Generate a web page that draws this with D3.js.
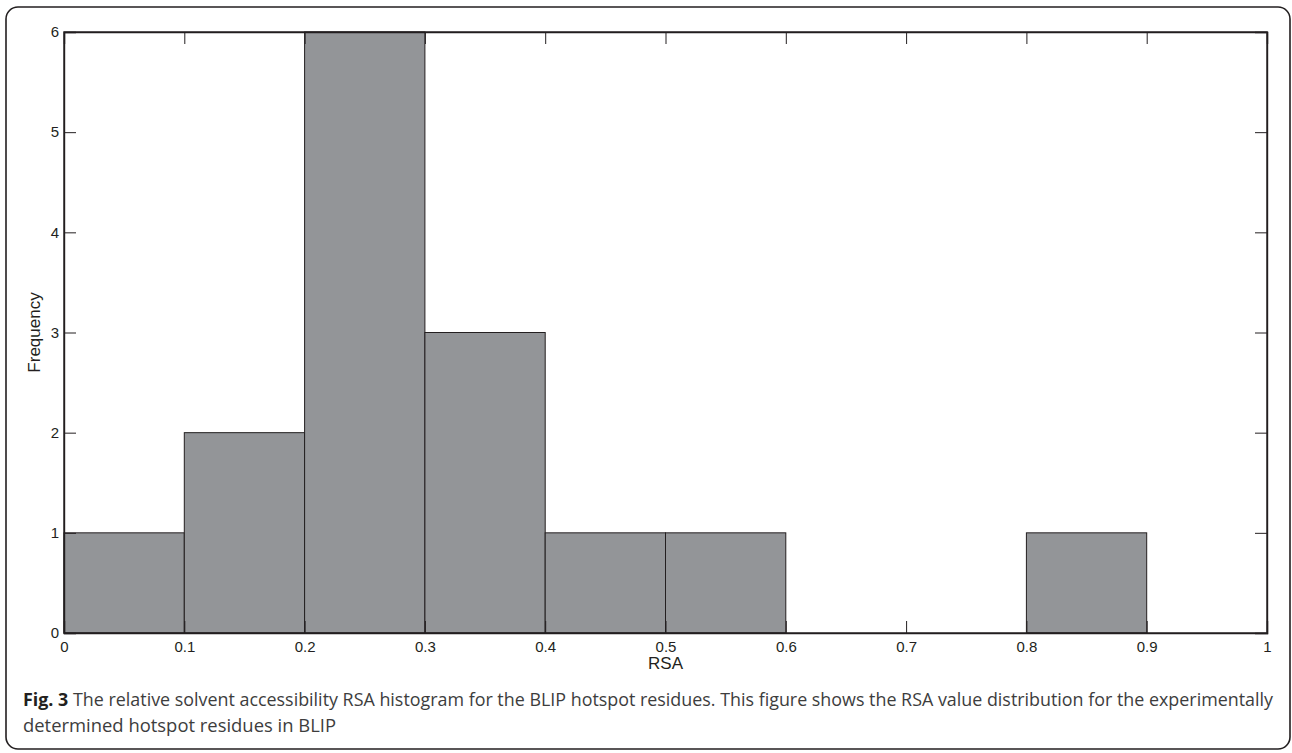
<!DOCTYPE html>
<html>
<head>
<meta charset="utf-8">
<script src="https://cdn.jsdelivr.net/npm/d3@7"></script>
<style>
  body { margin: 0; background: #fff; }
  svg { display: block; }
</style>
</head>
<body>
<div id="svgDiv"></div>
<script>
// histogram bins (RSA) and counts
var binEdges = [0, 0.1, 0.2, 0.3, 0.4, 0.5, 0.6, 0.7, 0.8, 0.9, 1.0];
var counts = [1, 2, 6, 3, 1, 1, 0, 0, 1, 0];
var xTicks = [0, 0.1, 0.2, 0.3, 0.4, 0.5, 0.6, 0.7, 0.8, 0.9, 1];
var yTicks = [0, 1, 2, 3, 4, 5, 6];
var xLabel = "RSA";
var yLabel = "Frequency";
var captionBold = "Fig. 3";
var captionLine1 = " The relative solvent accessibility RSA histogram for the BLIP hotspot residues. This figure shows the RSA value distribution for the experimentally";
var captionLine2 = "determined hotspot residues in BLIP";

var svgWidth = 1292, svgHeight = 753;
var plot = {left: 64, right: 1267, top: 32, bottom: 633};

var svg = d3.select("#svgDiv").append("svg")
    .attr("width", svgWidth)
    .attr("height", svgHeight);

// outer frame
svg.append("rect")
    .attr("x", 6).attr("y", 7)
    .attr("width", 1284).attr("height", 742)
    .attr("rx", 12).attr("ry", 12)
    .attr("fill", "none")
    .attr("stroke", "#231f20")
    .attr("stroke-width", 1.6);

var x = d3.scaleLinear().domain([0, 1]).range([plot.left, plot.right]);
var y = d3.scaleLinear().domain([0, 6]).range([plot.bottom, plot.top]);

var bins = counts.map(function(c, i) {
    return {x0: binEdges[i], x1: binEdges[i + 1], n: c};
});

// bars
svg.append("g").selectAll("rect")
    .data(bins)
    .enter().append("rect")
    .attr("x", function(d) { return x(d.x0); })
    .attr("y", function(d) { return y(d.n); })
    .attr("width", function(d) { return x(d.x1) - x(d.x0); })
    .attr("height", function(d) { return y(0) - y(d.n); })
    .attr("fill", "#939598")
    .attr("stroke", "#231f20")
    .attr("stroke-width", 1);

var tickFont = "'Liberation Sans', Arial, sans-serif";
var axisColor = "#231f20";

// bottom axis - ticks inward
var xAxis = d3.axisBottom(x).tickValues(xTicks).tickSize(-12).tickPadding(8)
    .tickFormat(function(d) { return d === 0 ? "0" : d === 1 ? "1" : d3.format(".1f")(d); });
var gx = svg.append("g").attr("transform", "translate(0," + plot.bottom + ")").call(xAxis);

// top axis, ticks only
var gxTop = svg.append("g").attr("transform", "translate(0," + plot.top + ")")
    .call(d3.axisTop(x).tickValues(xTicks).tickSize(-12).tickFormat(""));

// left axis
var yAxis = d3.axisLeft(y).tickValues(yTicks).tickSize(-12).tickPadding(5).tickFormat(d3.format("d"));
var gy = svg.append("g").attr("transform", "translate(" + plot.left + ",0)").call(yAxis);

// right axis
var gyRight = svg.append("g").attr("transform", "translate(" + plot.right + ",0)")
    .call(d3.axisRight(y).tickValues(yTicks).tickSize(-12).tickFormat(""));

[gx, gxTop, gy, gyRight].forEach(function(g) {
    g.selectAll(".domain").attr("stroke", axisColor).attr("stroke-width", 1.4);
    g.selectAll(".tick line").attr("stroke", axisColor).attr("stroke-width", 1);
    g.selectAll("text")
        .attr("font-family", tickFont)
        .attr("font-size", 15)
        .attr("fill", axisColor);
});
// crisp box over the axis lines
svg.append("rect")
    .attr("x", plot.left).attr("y", plot.top)
    .attr("width", plot.right - plot.left).attr("height", plot.bottom - plot.top)
    .attr("fill", "none").attr("stroke", axisColor).attr("stroke-width", 1.4);

// axis labels
svg.append("text")
    .attr("x", x(0.5)).attr("y", 669)
    .attr("text-anchor", "middle")
    .attr("font-family", tickFont)
    .attr("font-size", 17)
    .attr("fill", axisColor)
    .text(xLabel);

svg.append("text")
    .attr("transform", "translate(40," + ((plot.top + plot.bottom) / 2) + ") rotate(-90)")
    .attr("text-anchor", "middle")
    .attr("font-family", tickFont)
    .attr("font-size", 17)
    .attr("fill", axisColor)
    .text(yLabel);

// caption
var capFont = "'Open Sans', 'Noto Sans', sans-serif";
var cap1 = svg.append("text")
    .attr("x", 23).attr("y", 706)
    .attr("font-family", capFont)
    .attr("font-size", 18)
    .attr("fill", "#3d3d3d")
    .attr("textLength", 1250)
    .attr("lengthAdjust", "spacingAndGlyphs");
cap1.append("tspan").attr("font-weight", "bold").attr("fill", "#231f20").text(captionBold);
cap1.append("tspan").text(captionLine1);

svg.append("text")
    .attr("x", 23).attr("y", 732)
    .attr("font-family", capFont)
    .attr("font-size", 18)
    .attr("fill", "#3d3d3d")
    .attr("textLength", 313)
    .attr("lengthAdjust", "spacingAndGlyphs")
    .text(captionLine2);
</script>
</body>
</html>
